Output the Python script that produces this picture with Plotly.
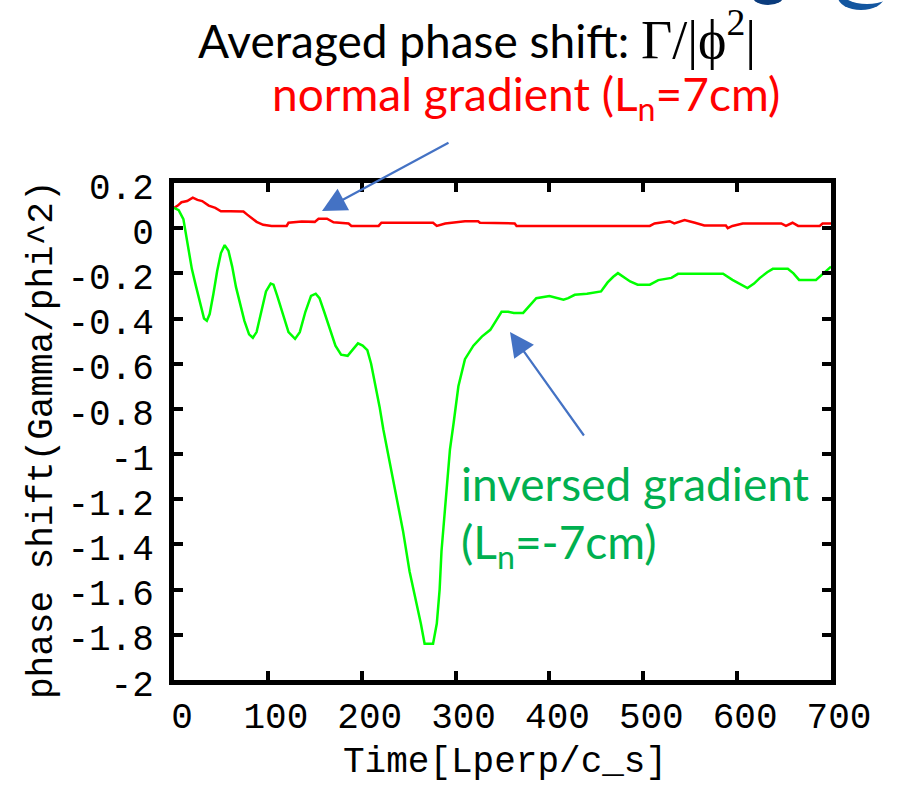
import plotly.graph_objects as go

# ---------------- data ----------------
t_red = [0, 4, 8, 14, 20, 25, 30, 37, 44, 50, 60, 74, 78, 81, 85, 88, 95, 104, 120, 122, 136, 150,
         154, 163, 170, 186, 189, 218, 221, 276, 280, 289, 310, 324, 326, 363, 365, 507, 512, 528,
         533, 544, 555, 565, 588, 590, 595, 606, 647, 652, 659, 665, 688, 691, 700]
v_red = [0.09, 0.10, 0.115, 0.12, 0.135, 0.125, 0.12, 0.10, 0.09, 0.075, 0.075, 0.074, 0.06, 0.05,
         0.04, 0.028, 0.015, 0.01, 0.01, 0.024, 0.03, 0.028, 0.042, 0.042, 0.026, 0.021, 0.01, 0.01,
         0.024, 0.024, 0.01, 0.021, 0.031, 0.031, 0.024, 0.021, 0.01, 0.01, 0.021, 0.031, 0.021,
         0.036, 0.024, 0.012, 0.012, 0.0, 0.01, 0.021, 0.021, 0.01, 0.024, 0.01, 0.01, 0.021, 0.021]

t_green = [0, 5, 10, 14, 19, 23, 28, 32, 35, 38, 42, 46, 50, 54, 58, 62, 66, 70, 75, 80, 84, 88,
           93, 98, 103, 106, 110, 116, 122, 129, 134, 140, 146, 151, 155, 160, 166, 172, 178, 185,
           190, 196, 201, 206, 210, 214, 219, 223, 230, 237, 244, 251, 258, 263, 267, 276, 280,
           283, 285, 288, 291, 294, 298, 303, 310, 319, 328, 337, 343, 349, 356, 362, 372, 380,
           386, 400, 410, 415, 420, 427, 440, 455, 462, 468, 473, 480, 486, 494, 507, 516, 530,
           537, 585, 595, 604, 611, 618, 624, 632, 638, 654, 660, 666, 684, 692, 700]
v_green = [0.09, 0.08, 0.04, -0.05, -0.18, -0.25, -0.34, -0.40, -0.41, -0.38, -0.29, -0.19, -0.11,
           -0.075, -0.10, -0.17, -0.26, -0.33, -0.41, -0.47, -0.485, -0.46, -0.37, -0.28, -0.245,
           -0.25, -0.30, -0.38, -0.46, -0.49, -0.46, -0.37, -0.30, -0.29, -0.31, -0.37, -0.45,
           -0.52, -0.56, -0.565, -0.54, -0.51, -0.52, -0.54, -0.60, -0.68, -0.79, -0.89, -1.04,
           -1.18, -1.34, -1.52, -1.65, -1.75, -1.84, -1.84, -1.75, -1.60, -1.43, -1.28, -1.11,
           -0.98, -0.86, -0.70, -0.58, -0.52, -0.48, -0.45, -0.41, -0.37, -0.37, -0.375, -0.375,
           -0.34, -0.31, -0.30, -0.31, -0.317, -0.31, -0.295, -0.29, -0.28, -0.24, -0.215, -0.199,
           -0.22, -0.236, -0.25, -0.25, -0.23, -0.22, -0.202, -0.202, -0.229, -0.25, -0.265,
           -0.245, -0.221, -0.195, -0.18, -0.18, -0.2, -0.229, -0.229, -0.2, -0.17]

x_ticks = [0, 100, 200, 300, 400, 500, 600, 700]
x_ticktext = ["0", "100", "200", "300", "400", "500", "600", "700"]
y_ticks = [0.2, 0, -0.2, -0.4, -0.6, -0.8, -1, -1.2, -1.4, -1.6, -1.8, -2]
y_ticktext = ["0.2", "0", "-0.2", "-0.4", "-0.6", "-0.8", "-1", "-1.2", "-1.4", "-1.6", "-1.8", "-2"]

# ---------------- layout geometry ----------------
W, H = 897, 787
L, R, T, B = 174, 66, 183, 107
PW, PH = W - L - R, H - T - B


def px(x):
    return (x - L) / PW


def py(y):
    return (H - B - y) / PH


MONO = "Liberation Mono"
SANS = "Lato"

fig = go.Figure()
fig.add_trace(go.Scatter(x=t_red, y=v_red, mode="lines",
                         line=dict(color="#FF0000", width=2.5), showlegend=False))
fig.add_trace(go.Scatter(x=t_green, y=v_green, mode="lines",
                         line=dict(color="#00FF00", width=2.5), showlegend=False))

axis_common = dict(showline=True, linewidth=5, linecolor="black", mirror="allticks",
                   ticks="inside", ticklen=9, tickwidth=4, tickcolor="black",
                   showgrid=False, zeroline=False,
                   tickfont=dict(family=MONO, size=36, color="black"))

fig.update_xaxes(range=[0, 700], tickvals=x_ticks, ticktext=x_ticktext,
                 ticklabelshift=8, **axis_common)
fig.update_yaxes(range=[-2, 0.2], tickvals=y_ticks, ticktext=y_ticktext,
                 ticklabelstandoff=8, ticklabelshift=3, **axis_common)

annotations = [
    dict(x=px(197), y=py(0), borderpad=0,
         text="Averaged phase shift: <span style='font-family:Liberation Serif;font-size:54px'>Γ/|ϕ<sup>2</sup>|</span>",
         font=dict(family=SANS, size=46, color="black"), xanchor="left", yanchor="top"),
    dict(x=px(526), y=py(97), text="normal gradient (L<sub>n</sub>=7cm)",
         font=dict(family=SANS, size=46, color="#FF0000"), xanchor="center", yanchor="middle"),
    dict(x=px(459), y=py(483), text="inversed gradient",
         font=dict(family=SANS, size=46, color="#00B050"), xanchor="left", yanchor="middle"),
    dict(x=px(459), y=py(545), text="(L<sub>n</sub>=-7cm)",
         font=dict(family=SANS, size=46, color="#00B050"), xanchor="left", yanchor="middle"),
    dict(x=px(505), y=py(762), text="Time[Lperp/c_s]",
         font=dict(family=MONO, size=36, color="black"), xanchor="center", yanchor="middle"),
    dict(x=px(42), y=py(440), text="phase shift(Gamma/phi^2)", textangle=-90,
         font=dict(family=MONO, size=36, color="black"), xanchor="center", yanchor="middle"),
    # arrows
    dict(x=px(322), y=py(211), ax=450 - 322, ay=142 - 211, text="", showarrow=True,
         arrowhead=2, arrowsize=2.2, arrowwidth=2.2, arrowcolor="#4472C4"),
    dict(x=px(510), y=py(332), ax=585 - 510, ay=437 - 332, text="", showarrow=True,
         arrowhead=2, arrowsize=2.2, arrowwidth=2.2, arrowcolor="#4472C4"),
]
for a in annotations:
    a.setdefault("xref", "paper")
    a.setdefault("yref", "paper")
    a.setdefault("showarrow", False)

shapes = [
    dict(type="circle", xref="paper", yref="paper", x0=px(752), x1=px(784), y0=py(5), y1=py(-14),
         fillcolor="#0B3C7D", line=dict(width=0), layer="above"),
    dict(type="circle", xref="paper", yref="paper", x0=px(838), x1=px(884), y0=py(10), y1=py(-16),
         fillcolor="#1356A0", line=dict(width=0), layer="above"),
    dict(type="circle", xref="paper", yref="paper", x0=px(840), x1=px(894), y0=py(4), y1=py(-24),
         fillcolor="white", line=dict(width=0), layer="above"),
]

fig.update_layout(width=W, height=H, margin=dict(l=L, r=R, t=T, b=B),
                  paper_bgcolor="white", plot_bgcolor="white",
                  annotations=annotations, shapes=shapes, showlegend=False)

fig.write_html("out.html")
